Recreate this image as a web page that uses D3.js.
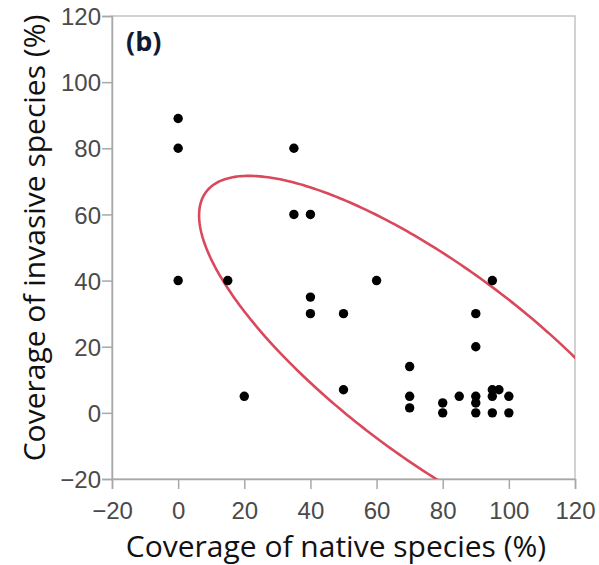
<!DOCTYPE html>
<html>
<head>
<meta charset="utf-8">
<script src="https://cdn.jsdelivr.net/npm/d3@7"></script>
<style>
  html, body { margin: 0; padding: 0; background: #fff; }
  svg { display: block; }
</style>
</head>
<body>
<svg id="chart" width="599" height="565"></svg>
<script>
// ---- Data ----
const nativeCoverage   = [0, 0, 0, 15, 20, 35, 35, 40, 40, 40, 50, 50, 60, 70, 70, 70, 80, 80, 85, 90, 90, 90, 90, 90, 95, 95, 97, 95, 95, 100, 100];
const invasiveCoverage = [89, 80, 40, 40, 5, 80, 60, 60, 35, 30, 30, 7, 40, 14, 5, 1.5, 3, 0, 5, 30, 20, 5, 3, 0, 40, 7, 7, 5, 0, 5, 0];
const xTicks = [-20, 0, 20, 40, 60, 80, 100, 120];
const yTicks = [-20, 0, 20, 40, 60, 80, 100, 120];
const xDomain = [-20, 120];
const yDomain = [-20, 120];
const panelLabel = "(b)";
const xTitle = "Coverage of native species (%)";
const yTitle = "Coverage of invasive species (%)";
// density ellipse, in data units: centre, semi-axes, rotation (degrees)
const ellipseCenter = [77.9, 14.9];
const ellipseAxes = [86.7, 28.75];
const ellipseAngle = -36.75;

// ---- Layout ----
const svg = d3.select("#chart");
const L = 112, R = 575, T = 16, B = 479;
const x = d3.scaleLinear().domain(xDomain).range([L, R]);
const y = d3.scaleLinear().domain(yDomain).range([B, T]);
const tickFont = "'Liberation Sans Narrow', 'Liberation Sans', Arial, sans-serif";
const titleFont = "'Open Sans', 'Liberation Sans', Arial, sans-serif";

svg.append("defs").append("clipPath").attr("id", "plotclip")
  .append("rect").attr("x", L).attr("y", T).attr("width", R - L).attr("height", B - T);

// frame (top/right)
svg.append("rect").attr("x", L).attr("y", T).attr("width", R - L).attr("height", B - T)
  .attr("fill", "none").attr("stroke", "#c4c4c4").attr("stroke-width", 1.5);

// axes
const fmt = d => d < 0 ? "\u2212" + Math.abs(d) : d;
const xAxis = d3.axisBottom(x).tickValues(xTicks).tickSize(10).tickPadding(13).tickFormat(fmt);
const yAxis = d3.axisLeft(y).tickValues(yTicks).tickSize(10).tickPadding(1).tickFormat(fmt);

const gx = svg.append("g").attr("transform", `translate(0,${B})`).call(xAxis);
const gy = svg.append("g").attr("transform", `translate(${L},0)`).call(yAxis);
[gx, gy].forEach(g => {
  g.select(".domain").attr("stroke", "#a8a8a8").attr("stroke-width", 1.5);
  g.selectAll(".tick line").attr("stroke", "#a8a8a8").attr("stroke-width", 1.5);
  g.selectAll(".tick text").attr("fill", "#4a4a4a").attr("font-size", 24)
    .attr("font-family", tickFont);
});
gy.selectAll(".tick text").attr("dy", "0.36em");

// ---- Density ellipse ----
const th = ellipseAngle * Math.PI / 180;
const ellPts = d3.range(0, 361).map(k => {
  const t = k * Math.PI / 180;
  const ex = ellipseAxes[0] * Math.cos(t), ey = ellipseAxes[1] * Math.sin(t);
  return [ellipseCenter[0] + ex * Math.cos(th) - ey * Math.sin(th),
          ellipseCenter[1] + ex * Math.sin(th) + ey * Math.cos(th)];
});
svg.append("path")
  .attr("clip-path", "url(#plotclip)")
  .attr("d", d3.line().x(d => x(d[0])).y(d => y(d[1])).curve(d3.curveLinearClosed)(ellPts))
  .attr("fill", "none").attr("stroke", "#d9485b").attr("stroke-width", 2.6);

// ---- Points ----
svg.append("g").selectAll("circle")
  .data(d3.range(nativeCoverage.length))
  .join("circle")
  .attr("cx", i => x(nativeCoverage[i]))
  .attr("cy", i => y(invasiveCoverage[i]))
  .attr("r", 4.7)
  .attr("fill", "#000");

// ---- Text ----
svg.append("text").attr("x", 126).attr("y", 51).text(panelLabel)
  .attr("font-family", titleFont).attr("font-weight", "bold")
  .attr("font-size", 27).attr("fill", "#111a33");

svg.append("text").attr("x", 336).attr("y", 557).attr("text-anchor", "middle")
  .text(xTitle).attr("font-family", titleFont)
  .attr("font-size", 30).attr("fill", "#111");

svg.append("text").attr("transform", `translate(45,238) rotate(-90)`)
  .attr("text-anchor", "middle")
  .text(yTitle).attr("font-family", titleFont)
  .attr("font-size", 30).attr("fill", "#111");
</script>
</body>
</html>
